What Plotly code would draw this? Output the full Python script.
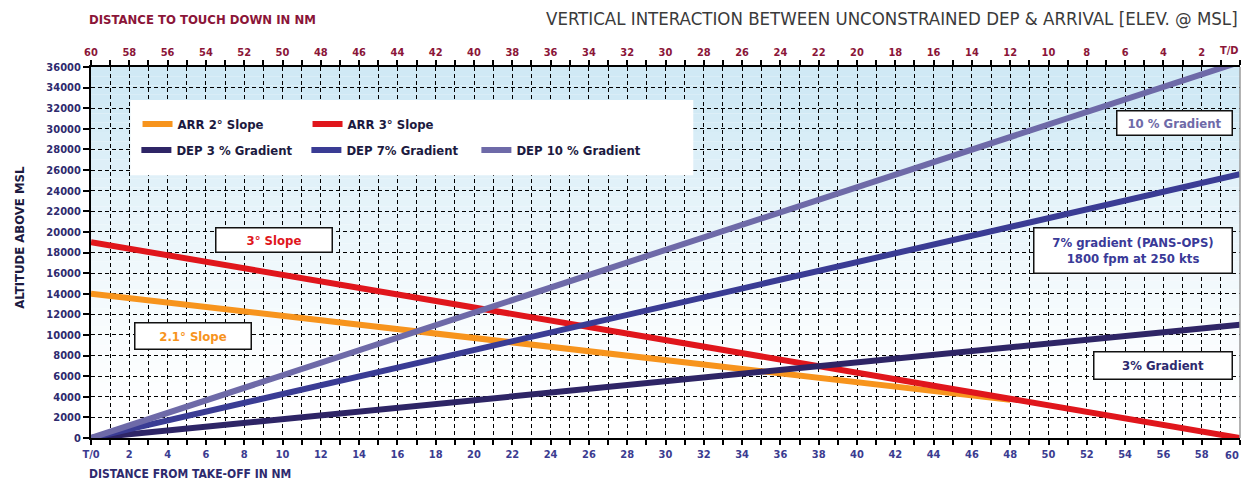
import plotly.graph_objects as go

# ---- data ----
dist_nm = [0, 60]                 # distance from take-off, NM
arr2_x = [0, 48]                  # ARR 2° slope merges with 3° slope near 48 NM
arr2_alt = [14000, 3700]
arr3_alt = [19000, 0]
dep3_alt = [0, 11000]
dep7_alt = [0, 25600]
dep10_alt = [0, 36500]

x_ticks = list(range(0, 61, 2))
x_bottom_labels = ["T/0"] + [str(v) for v in range(2, 61, 2)]
x_top_labels = [str(v) for v in range(60, 1, -2)] + ["T/D"]
y_ticks = list(range(0, 36001, 2000))
y_labels = [str(v) for v in y_ticks]

FONT = "Liberation Sans Narrow, DejaVu Sans Condensed, Roboto Condensed, Arial Narrow, sans-serif"
C_ORANGE = "#f7941d"
C_RED = "#e0161c"
C_DEP3 = "#2e2566"
C_DEP7 = "#3a3c94"
C_DEP10 = "#6e6aa8"
C_MAROON = "#8b1538"
C_NAVY = "#2e2a6e"
C_XTICK = "#3b3b90"

fig = go.Figure()

fig.add_trace(go.Scatter(x=arr2_x, y=arr2_alt, mode="lines", name="ARR 2° Slope",
                         line=dict(color=C_ORANGE, width=6), legend="legend"))
fig.add_trace(go.Scatter(x=dist_nm, y=arr3_alt, mode="lines", name="ARR 3° Slope",
                         line=dict(color=C_RED, width=6), legend="legend"))
fig.add_trace(go.Scatter(x=dist_nm, y=dep3_alt, mode="lines", name="DEP 3 % Gradient",
                         line=dict(color=C_DEP3, width=6), legend="legend2"))
fig.add_trace(go.Scatter(x=dist_nm, y=dep7_alt, mode="lines", name="DEP 7% Gradient",
                         line=dict(color=C_DEP7, width=6), legend="legend2"))
fig.add_trace(go.Scatter(x=dist_nm, y=dep10_alt, mode="lines", name="DEP 10 % Gradient",
                         line=dict(color=C_DEP10, width=6), legend="legend2"))
# invisible trace to activate the top axis
fig.add_trace(go.Scatter(x=dist_nm, y=[0, 0], xaxis="x2", mode="lines",
                         line=dict(width=0), showlegend=False, hoverinfo="skip"))

# background gradient bands (light blue at top fading to white)
shapes = []
n = 40
top = (208, 233, 245)
bot = (255, 255, 255)
for i in range(n):
    t = (i + 0.5) / n
    t2 = min(1.0, (t ** 1.6) * 1.15)
    c = tuple(int(round(bot[k] + (top[k] - bot[k]) * t2)) for k in range(3))
    shapes.append(dict(type="rect", xref="x domain", yref="y domain",
                       x0=0, x1=1, y0=i / n, y1=(i + 1) / n,
                       fillcolor="rgb(%d,%d,%d)" % c, line=dict(width=0), layer="below"))
# white legend panel
shapes.append(dict(type="rect", xref="x", yref="y", x0=2.05, x1=31.45, y0=25500, y1=32800,
                   fillcolor="white", line=dict(width=0), layer="between"))
# right border
shapes.append(dict(type="line", xref="x domain", yref="y domain", x0=1, x1=1, y0=0, y1=1,
                   line=dict(color="#9a9a9a", width=1.5), layer="above"))

grid_dash = "4px,3px"

# the last tick label on each x axis is drawn as a right-anchored annotation so it stays inside
bottom_axis_text = x_bottom_labels[:-1] + [""]
top_axis_text = x_top_labels[:-1] + [""]

# the page adds an ~8px body margin, so the figure is sized to fit the window
fig.update_layout(
    width=1241, height=476,
    margin=dict(l=83, r=9, t=59, b=46),
    paper_bgcolor="white", plot_bgcolor="white",
    shapes=shapes,
    showlegend=True,
    xaxis=dict(range=[0, 60], tickvals=x_ticks, ticktext=bottom_axis_text, automargin=False,
               ticklabeloverflow="allow",
               showgrid=True, gridcolor="black", gridwidth=1, griddash=grid_dash,
               ticks="outside", ticklen=5, tickcolor="black", tickwidth=1.5,
               showline=True, linecolor="black", linewidth=2, zeroline=False,
               tickfont=dict(family=FONT, size=11, color=C_XTICK, weight="bold"),
               minor=dict(dtick=1, showgrid=True, gridcolor="black", gridwidth=1,
                          griddash=grid_dash, ticks="outside", ticklen=5,
                          tickcolor="black", tickwidth=1.5)),
    xaxis2=dict(range=[0, 60], overlaying="x", side="top", tickvals=x_ticks, automargin=False,
                ticklabeloverflow="allow",
                ticktext=top_axis_text, showgrid=False, ticks="outside", ticklen=5,
                tickcolor="black", tickwidth=1.5, showline=True, linecolor="black",
                linewidth=2, zeroline=False,
                tickfont=dict(family=FONT, size=11, color=C_MAROON, weight="bold"),
                minor=dict(dtick=1, ticks="outside", ticklen=5, tickcolor="black",
                           tickwidth=1.5, showgrid=False)),
    yaxis=dict(range=[0, 36000], tickvals=y_ticks, ticktext=y_labels, automargin=False,
               ticklabeloverflow="allow",
               showgrid=True, gridcolor="black", gridwidth=1, griddash=grid_dash,
               ticks="outside", ticklen=6, tickcolor="black", tickwidth=1.5,
               showline=True, linecolor="black", linewidth=2, zeroline=False,
               tickfont=dict(family=FONT, size=11, color=C_NAVY, weight="bold")),
    legend=dict(orientation="h", x=0.0405, y=0.846, xanchor="left", yanchor="middle",
                bgcolor="rgba(0,0,0,0)", entrywidth=125, entrywidthmode="pixels",
                font=dict(family=FONT, size=13, color="#1c1a40", weight="bold"),
                itemclick=False, itemdoubleclick=False),
    legend2=dict(orientation="h", x=0.0395, y=0.776, xanchor="left", yanchor="middle",
                 bgcolor="rgba(0,0,0,0)", entrywidth=125, entrywidthmode="pixels",
                 font=dict(family=FONT, size=13, color="#1c1a40", weight="bold"),
                 itemclick=False, itemdoubleclick=False),
)

annots = [
    dict(text="DISTANCE TO TOUCH DOWN IN NM", xref="paper", yref="paper", x=-0.0035, y=1.127,
         xanchor="left", yanchor="middle", showarrow=False,
         font=dict(family=FONT, size=13, color=C_MAROON, weight="bold")),
    dict(text="VERTICAL INTERACTION BETWEEN UNCONSTRAINED DEP & ARRIVAL [ELEV. @ MSL]",
         xref="paper", yref="paper", x=1.0, y=1.13, xanchor="right", yanchor="middle",
         showarrow=False, font=dict(family=FONT, size=18.5, color="#3a3a3a")),
    dict(text="DISTANCE FROM TAKE-OFF IN NM", xref="paper", yref="paper", x=-0.0035, y=-0.097,
         xanchor="left", yanchor="middle", showarrow=False,
         font=dict(family=FONT, size=12, color=C_NAVY, weight="bold")),
    dict(text="ALTITUDE ABOVE MSL", xref="paper", yref="paper", x=-0.062, y=0.542,
         xanchor="center", yanchor="middle", textangle=-90, showarrow=False,
         font=dict(family=FONT, size=13, color="#1c1a40", weight="bold")),
    # last tick labels of the two x axes
    dict(text=x_bottom_labels[-1], xref="x", yref="paper", x=x_ticks[-1], y=0, xshift=1,
         yshift=-17, xanchor="right", yanchor="middle", showarrow=False,
         font=dict(family=FONT, size=11, color=C_XTICK, weight="bold")),
    dict(text=x_top_labels[-1], xref="x", yref="paper", x=x_ticks[-1], y=1, xshift=1,
         yshift=17, xanchor="right", yanchor="middle", showarrow=False,
         font=dict(family=FONT, size=11, color=C_MAROON, weight="bold")),
]

boxes = [
    ("3° Slope", 9.55, 19260, 117, 25, C_RED),
    ("2.1° Slope", 5.35, 9850, 117, 27, C_ORANGE),
    ("10 % Gradient", 56.6, 30610, 116, 25, C_DEP10),
    ("7% gradient (PANS-OPS)<br>1800 fpm at 250 kts", 54.4, 18150, 199, 46, "#3a3a98"),
    ("3% Gradient", 56.0, 7080, 139, 28, C_NAVY),
]
for txt, bx, by, w, h, col in boxes:
    annots.append(dict(text=txt, x=bx, y=by, xref="x", yref="y", showarrow=False,
                       width=w - 4, height=h - 4, bgcolor="white", bordercolor="#111111",
                       borderwidth=1.5, borderpad=1, align="center", valign="middle",
                       font=dict(family=FONT, size=13, color=col, weight="bold")))

fig.update_layout(annotations=annots)

fig.write_html("out.html")
